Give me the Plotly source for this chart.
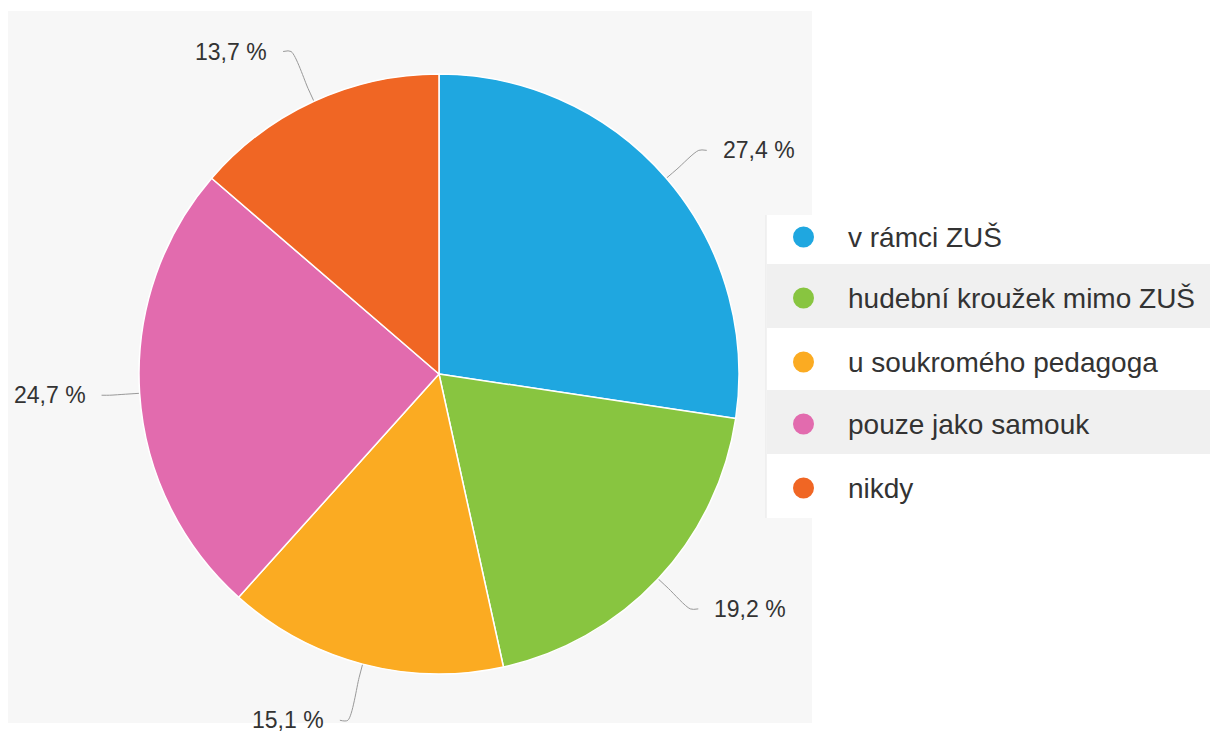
import math
import plotly.graph_objects as go

categories = ["v rámci ZUŠ", "hudební kroužek mimo ZUŠ", "u soukromého pedagoga",
              "pouze jako samouk", "nikdy"]
values = [27.4, 19.2, 15.1, 24.7, 13.7]
colors = ["#1fa7e0", "#88c540", "#fbab22", "#e26bae", "#f06624"]
value_labels = [f"{v:.1f}".replace(".", ",") + " %" for v in values]

OFF = 8                      # page body margin
W, H = 1218 - OFF, 735 - OFF
CX, CY, R = 439 - OFF, 374 - OFF, 300  # pie centre / radius in figure pixels

fig = go.Figure()

fig.add_trace(go.Pie(
    labels=categories, values=values, sort=False, direction="clockwise",
    rotation=0, marker=dict(colors=colors, line=dict(color="#ffffff", width=1.5)),
    textinfo="none", hoverinfo="label+percent", showlegend=False,
    domain=dict(x=[(CX - R) / W, (CX + R) / W], y=[1 - (CY + R) / H, 1 - (CY - R) / H]),
))

total = sum(values)
cum = 0.0
annotations = []
for v, lab in zip(values, value_labels):
    mid = (cum + v / 2) / total * 2 * math.pi
    cum += v
    s, c = math.sin(mid), -math.cos(mid)
    side = 1 if s >= 0 else -1
    D = 30 + 30 * c * c
    x0, y0 = CX + R * s, CY + R * c
    xb, yb = CX + (R + 14) * s, CY + (R + 14) * c
    xl, yl = CX + (R + D) * s, CY + (R + D) * c
    xe = xl + side * 8
    fig.add_trace(go.Scatter(
        x=[x0, xb, xl, xe], y=[y0, yb, yl, yl], mode="lines",
        line=dict(color="#999999", width=1, shape="spline", smoothing=0.8),
        hoverinfo="skip", showlegend=False, xaxis="x", yaxis="y"))
    annotations.append(dict(
        x=xe + side * 14, y=yl, xref="x", yref="y", text=lab, showarrow=False,
        xanchor="left" if side > 0 else "right", yanchor="middle",
        font=dict(family="Liberation Sans, Arial, sans-serif", size=23, color="#333333")))

# legend drawn manually (rows with alternating background), screen coords minus OFF
def sx(v):
    return v - OFF

shapes = [
    dict(type="rect", xref="x", yref="y", x0=sx(8), x1=sx(812), y0=sx(11), y1=sx(723),
         fillcolor="#f7f7f7", line=dict(width=0), layer="below"),
    dict(type="rect", xref="x", yref="y", x0=sx(766), x1=W, y0=sx(215), y1=sx(518),
         fillcolor="#ffffff", line=dict(width=0), layer="below"),
    dict(type="line", xref="x", yref="y", x0=sx(766), x1=sx(766), y0=sx(215), y1=sx(518),
         line=dict(color="#e6e6e6", width=1), layer="below"),
]
row_centers = [237, 298, 362, 424, 488]
row_bounds = [(215, 264), (264, 328), (328, 390), (390, 454), (454, 518)]
for i, (cat, col) in enumerate(zip(categories, colors)):
    y0b, y1b = row_bounds[i]
    if i % 2 == 1:
        shapes.append(dict(type="rect", xref="x", yref="y", x0=sx(767), x1=W,
                           y0=sx(y0b), y1=sx(y1b),
                           fillcolor="#f0f0f0", line=dict(width=0), layer="below"))
    yc = sx(row_centers[i])
    shapes.append(dict(type="circle", xref="x", yref="y", x0=sx(793), x1=sx(814),
                       y0=yc - 10.5, y1=yc + 10.5, fillcolor=col, line=dict(width=0)))
    annotations.append(dict(
        x=sx(846), y=yc, xref="x", yref="y", text=cat, showarrow=False,
        xanchor="left", yanchor="middle",
        font=dict(family="Liberation Sans, Arial, sans-serif", size=28, color="#333333")))

fig.update_layout(
    width=W, height=H, margin=dict(l=0, r=0, t=0, b=0),
    paper_bgcolor="#ffffff", plot_bgcolor="rgba(0,0,0,0)",
    xaxis=dict(range=[0, W], visible=False, fixedrange=True, domain=[0, 1]),
    yaxis=dict(range=[H, 0], visible=False, fixedrange=True, domain=[0, 1]),
    shapes=shapes, annotations=annotations, showlegend=False,
)

fig.write_html("out.html")
